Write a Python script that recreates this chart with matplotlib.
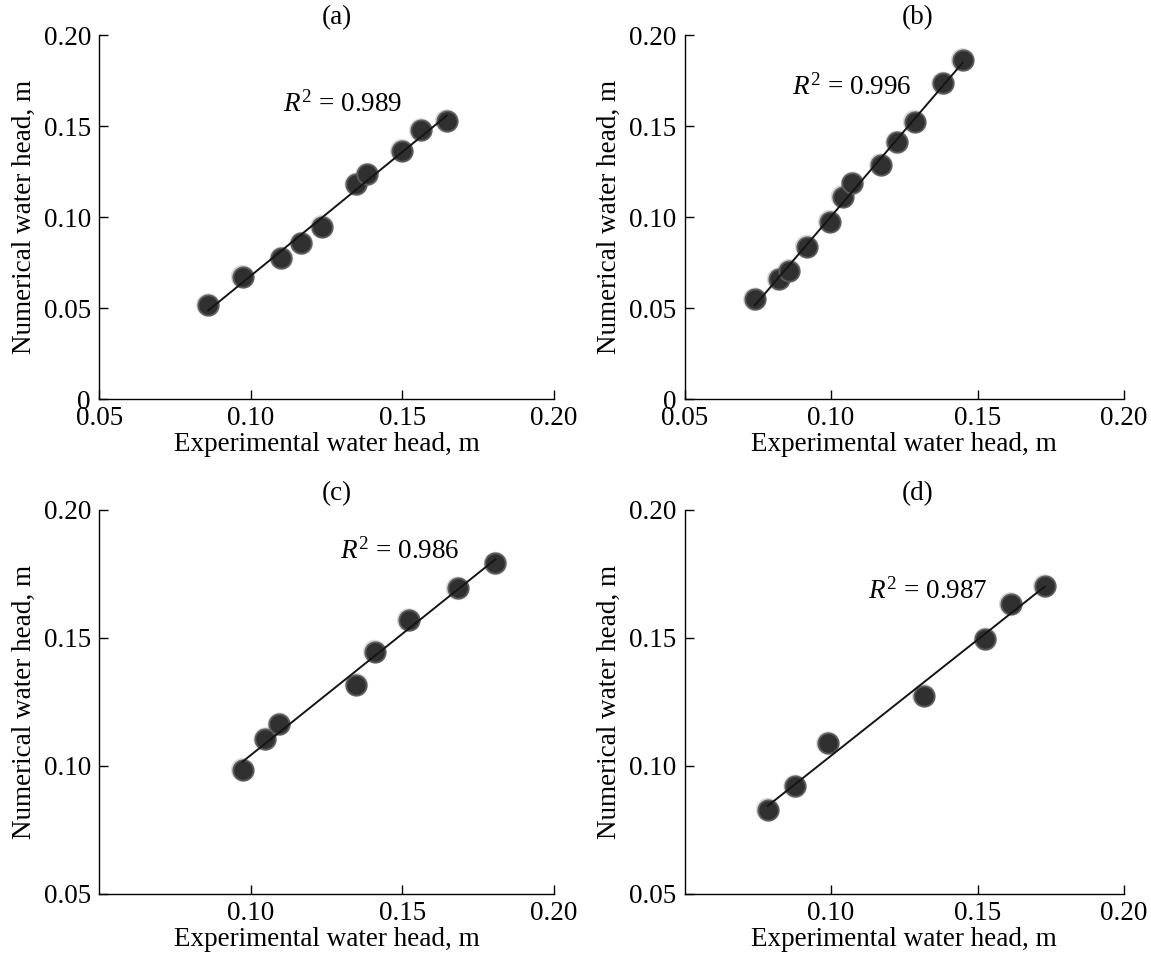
import numpy as np
import matplotlib
matplotlib.use("Agg")
import matplotlib.pyplot as plt

plt.rcParams['font.family'] = ['Liberation Serif', 'DejaVu Serif']
plt.rcParams['mathtext.fontset'] = 'custom'
plt.rcParams['mathtext.rm'] = 'Liberation Serif'
plt.rcParams['mathtext.it'] = 'Liberation Serif:italic'

# experimental vs numerical water head for the four cases
exp_a = [0.0859, 0.0973, 0.1101, 0.1167, 0.1235, 0.1348, 0.1384, 0.1498, 0.1561, 0.1646]
num_a = [0.0516, 0.0672, 0.0773, 0.0855, 0.0947, 0.1179, 0.1234, 0.1364, 0.1478, 0.1527]

exp_b = [0.0740, 0.0821, 0.0856, 0.0917, 0.0995, 0.1039, 0.1073, 0.1170, 0.1225, 0.1285, 0.1382, 0.1449]
num_b = [0.0548, 0.0658, 0.0705, 0.0837, 0.0974, 0.1112, 0.1185, 0.1286, 0.1410, 0.1524, 0.1734, 0.1863]

exp_c = [0.0973, 0.1048, 0.1094, 0.1348, 0.1409, 0.1521, 0.1682, 0.1807]
num_c = [0.0985, 0.1105, 0.1163, 0.1317, 0.1447, 0.1570, 0.1694, 0.1791]

exp_d = [0.0784, 0.0877, 0.0989, 0.1316, 0.1527, 0.1613, 0.1729]
num_d = [0.0829, 0.0920, 0.1089, 0.1275, 0.1495, 0.1633, 0.1703]

r2_values = [0.989, 0.996, 0.986, 0.987]
panel_names = ['(a)', '(b)', '(c)', '(d)']

x_ticks = [0.05, 0.10, 0.15, 0.20]
x_ticks_low = [0.10, 0.15, 0.20]
y_ticks_top = [0, 0.05, 0.10, 0.15, 0.20]
y_ticks_low = [0.05, 0.10, 0.15, 0.20]

FS = 19.5


def tick_text(v):
    return '0' if v == 0 else '%.2f' % v


def draw_panel(ax, xs, ys, r2, name, xticks, yticks, ylim, r2_pos, name_xy):
    xs = np.array(xs)
    ys = np.array(ys)

    # least squares line through the points
    k, b = np.polyfit(xs, ys, 1)
    xl = np.array([xs.min(), xs.max()])
    ax.plot(xl, k * xl + b, color='#151515', lw=1.4, zorder=3)

    # soft grey halo under a dark core, like a slightly blurred dot
    ax.scatter(xs, ys, s=290, facecolor='#a0a0a0', edgecolor='none',
               alpha=0.4, zorder=1)
    ax.scatter(xs, ys, s=215, facecolor='#303030', edgecolor='#5c5c5c',
               linewidth=1.3, zorder=2)

    ax.set_xlim(0.05, 0.20)
    ax.set_ylim(*ylim)
    ax.set_xticks(xticks)
    ax.set_xticklabels([tick_text(v) for v in xticks])
    ax.set_yticks(yticks)
    ax.set_yticklabels([tick_text(v) for v in yticks])

    for side in ['top', 'right']:
        ax.spines[side].set_visible(False)
    for side in ['left', 'bottom']:
        ax.spines[side].set_linewidth(1.0)
    ax.tick_params(direction='in', length=6.8, width=1.0, labelsize=FS)
    ax.tick_params(axis='x', pad=5)
    ax.tick_params(axis='y', pad=6)

    ax.set_xlabel('Experimental water head, m', fontsize=FS, labelpad=1)
    ax.set_ylabel('Numerical water head, m', fontsize=FS, labelpad=5)

    ax.text(r2_pos[0], r2_pos[1], r'$R^{\mathrm{2}}$ = %.3f' % r2,
            fontsize=FS, ha='left', va='center')
    ax.text(name_xy[0], name_xy[1], name, transform=ax.transAxes, fontsize=FS,
            ha='center', va='center')


fig = plt.figure(figsize=(11.51, 9.59), dpi=100)

ax_a = fig.add_axes([0.0862, 0.5839, 0.3951, 0.3796])
ax_b = fig.add_axes([0.5948, 0.5839, 0.3818, 0.3796])
ax_c = fig.add_axes([0.0862, 0.0678, 0.3951, 0.4004])
ax_d = fig.add_axes([0.5948, 0.0678, 0.3818, 0.4004])

#(a)
draw_panel(ax_a, exp_a, num_a, r2_values[0], panel_names[0],
           x_ticks, y_ticks_top, (0, 0.20), (0.1105, 0.1617), (0.523, 1.048))
#(b)
draw_panel(ax_b, exp_b, num_b, r2_values[1], panel_names[1],
           x_ticks, y_ticks_top, (0, 0.20), (0.0867, 0.1712), (0.53, 1.048))
#(c)
draw_panel(ax_c, exp_c, num_c, r2_values[2], panel_names[2],
           x_ticks_low, y_ticks_low, (0.05, 0.20), (0.1295, 0.1837), (0.523, 1.043))
#(d)
draw_panel(ax_d, exp_d, num_d, r2_values[3], panel_names[3],
           x_ticks_low, y_ticks_low, (0.05, 0.20), (0.1126, 0.1683), (0.53, 1.043))

fig.savefig('out.png', dpi=100)
